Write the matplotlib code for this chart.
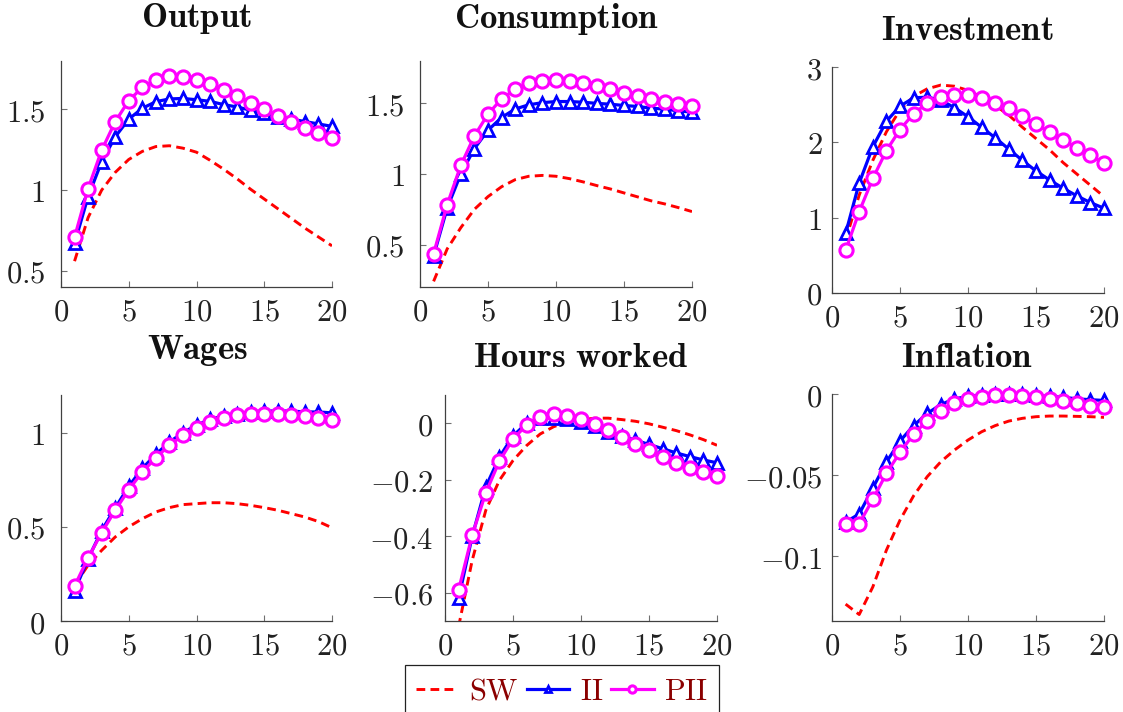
import numpy as np
import matplotlib
matplotlib.use("Agg")
import matplotlib.pyplot as plt
from matplotlib.ticker import FuncFormatter, FixedLocator

plt.rcParams['mathtext.fontset'] = 'cm'
plt.rcParams['font.family'] = 'serif'

# horizon
t = list(range(1, 21))

titles = ['Output', 'Consumption', 'Investment', 'Wages', 'Hours worked', 'Inflation']

# SW (red dashed)
sw_output = [0.56, 0.83, 1.00, 1.11, 1.19, 1.24, 1.27, 1.275, 1.26, 1.235,
             1.185, 1.13, 1.07, 1.005, 0.945, 0.885, 0.825, 0.765, 0.71, 0.655]
sw_cons = [0.24, 0.47, 0.62, 0.75, 0.84, 0.91, 0.96, 0.984, 0.99, 0.984,
           0.967, 0.944, 0.918, 0.894, 0.866, 0.838, 0.81, 0.788, 0.762, 0.734]
sw_inv = [0.70, 1.30, 1.76, 2.14, 2.43, 2.61, 2.71, 2.76, 2.745, 2.69,
          2.60, 2.49, 2.36, 2.20, 2.05, 1.90, 1.73, 1.58, 1.43, 1.28]
sw_wages = [0.19, 0.296, 0.375, 0.446, 0.50, 0.543, 0.579, 0.602, 0.618, 0.623,
            0.628, 0.628, 0.623, 0.614, 0.602, 0.588, 0.57, 0.552, 0.528, 0.495]
sw_hours = [-0.72, -0.485, -0.308, -0.202, -0.132, -0.079, -0.038, -0.012, 0.004, 0.012,
            0.018, 0.018, 0.013, 0.007, -0.002, -0.014, -0.026, -0.041, -0.058, -0.078]
sw_infl = [-0.1296, -0.136, -0.119, -0.0963, -0.0778, -0.0628, -0.051, -0.0418, -0.0346, -0.0284,
           -0.0233, -0.0195, -0.0167, -0.015, -0.014, -0.0136, -0.0136, -0.0138, -0.014, -0.0144]

# II (blue triangles)
ii_output = [0.67, 0.96, 1.176, 1.33, 1.44, 1.507, 1.548, 1.565, 1.568, 1.56,
             1.55, 1.53, 1.515, 1.495, 1.475, 1.455, 1.44, 1.425, 1.41, 1.395]
ii_cons = [0.42, 0.76, 1.00, 1.18, 1.31, 1.40, 1.46, 1.49, 1.505, 1.513,
           1.513, 1.508, 1.50, 1.494, 1.485, 1.478, 1.466, 1.459, 1.447, 1.438]
ii_inv = [0.79, 1.46, 1.94, 2.28, 2.48, 2.59, 2.60, 2.56, 2.46, 2.34,
          2.20, 2.06, 1.91, 1.76, 1.62, 1.50, 1.39, 1.29, 1.20, 1.125]
ii_wages = [0.16, 0.33, 0.48, 0.60, 0.715, 0.81, 0.885, 0.95, 1.00, 1.04,
            1.07, 1.09, 1.10, 1.11, 1.115, 1.115, 1.115, 1.11, 1.11, 1.105]
ii_hours = [-0.62, -0.40, -0.225, -0.12, -0.045, 0.0, 0.018, 0.02, 0.015, 0.005,
            -0.01, -0.03, -0.045, -0.06, -0.075, -0.09, -0.105, -0.118, -0.13, -0.14]
ii_infl = [-0.079, -0.074, -0.058, -0.042, -0.029, -0.0195, -0.012, -0.0065, -0.003, -0.0015,
           -0.0005, 0.0, 0.0, -0.0003, -0.0008, -0.0015, -0.002, -0.003, -0.0035, -0.004]

# PII (magenta circles)
pii_output = [0.708, 1.01, 1.247, 1.424, 1.555, 1.636, 1.683, 1.704, 1.70, 1.683,
              1.658, 1.621, 1.584, 1.542, 1.50, 1.462, 1.42, 1.387, 1.356, 1.325]
pii_cons = [0.435, 0.784, 1.061, 1.27, 1.424, 1.532, 1.60, 1.642, 1.659, 1.664,
            1.659, 1.642, 1.624, 1.60, 1.576, 1.553, 1.532, 1.513, 1.496, 1.478]
pii_inv = [0.565, 1.08, 1.52, 1.89, 2.17, 2.38, 2.52, 2.60, 2.63, 2.625,
           2.59, 2.52, 2.45, 2.35, 2.24, 2.135, 2.03, 1.93, 1.826, 1.72]
pii_wages = [0.186, 0.335, 0.469, 0.588, 0.697, 0.791, 0.867, 0.933, 0.986, 1.025,
             1.057, 1.078, 1.092, 1.10, 1.10, 1.10, 1.096, 1.088, 1.078, 1.065]
pii_hours = [-0.59, -0.396, -0.246, -0.134, -0.056, -0.006, 0.021, 0.033, 0.027, 0.015,
             -0.002, -0.024, -0.047, -0.073, -0.096, -0.118, -0.139, -0.158, -0.173, -0.188]
pii_infl = [-0.080, -0.080, -0.065, -0.049, -0.036, -0.0247, -0.0165, -0.0103, -0.0058, -0.0031,
            -0.0016, -0.0008, -0.0006, -0.0012, -0.002, -0.003, -0.0043, -0.0058, -0.0072, -0.0082]

sw = [sw_output, sw_cons, sw_inv, sw_wages, sw_hours, sw_infl]
ii = [ii_output, ii_cons, ii_inv, ii_wages, ii_hours, ii_infl]
pii = [pii_output, pii_cons, pii_inv, pii_wages, pii_hours, pii_infl]

ylims = [(0.4, 1.8), (0.2, 1.8), (0, 3), (0, 1.2), (-0.7, 0.1), (-0.14, 0)]
yticks = [[0.5, 1, 1.5], [0.5, 1, 1.5], [0, 1, 2, 3], [0, 0.5, 1],
          [-0.6, -0.4, -0.2, 0], [-0.1, -0.05, 0]]
xticks = [0, 5, 10, 15, 20]

W, H = 1123, 712
# axes boxes in pixels: left, right, top, bottom
boxes = [(61, 332, 61, 287), (420, 692, 61, 287), (832, 1104, 67, 293),
         (61, 332, 395, 621), (445, 717, 395, 621), (832, 1104, 394, 621)]
title_pos = [(196, 19), (556, 19), (967, 30), (197, 351), (580, 357), (967, 357)]
ypads = [11.5, 11, 7, 11.5, 8.5, 7]

fig = plt.figure(figsize=(W / 100, H / 100), dpi=100)

def fmt(v, pos):
    s = '%g' % v
    return '$' + s + '$'

axcol = '#404040'
for i in range(6):
    l, r, tp, b = boxes[i]
    ax = fig.add_axes([l / W, 1 - b / H, (r - l) / W, (b - tp) / H])
    ax.plot(t, sw[i], color='#ff0000', lw=2.1, ls=(0, (3, 1.8)), label=r'$\mathrm{SW}$')
    ax.plot(t, ii[i], color='#0000ff', lw=2.3, marker='^', ms=8.5, mew=2.0,
            mfc='white', mec='#0000ff', clip_on=False, label=r'$\mathrm{II}$')
    ax.plot(t, pii[i], color='#ff00ff', lw=2.3, marker='o', ms=9.5, mew=2.2,
            mfc='white', mec='#ff00ff', clip_on=False, label=r'$\mathrm{PII}$')
    ax.set_xlim(0, 20)
    ax.set_ylim(*ylims[i])
    ax.xaxis.set_major_locator(FixedLocator(xticks))
    ax.yaxis.set_major_locator(FixedLocator(yticks[i]))
    ax.xaxis.set_major_formatter(FuncFormatter(fmt))
    ax.yaxis.set_major_formatter(FuncFormatter(fmt))
    for s in ['top', 'right']:
        ax.spines[s].set_visible(False)
    for s in ['left', 'bottom']:
        ax.spines[s].set_color(axcol)
        ax.spines[s].set_linewidth(0.9)
    ax.tick_params(direction='in', length=4, width=0.8, color='#707070',
                   labelsize=22, labelcolor='#222222')
    ax.tick_params(axis='y', pad=ypads[i])
    ax.tick_params(axis='x', pad=7)
    ax.set_facecolor('none')
    fig.text(title_pos[i][0] / W, 1 - title_pos[i][1] / H,
             r'$\mathbf{' + titles[i].replace(' ', r'\ ') + '}$',
             ha='center', va='center', fontsize=25, color='#111111')
    if i == 0:
        handles, labels = ax.get_legend_handles_labels()

leg = fig.legend(handles, labels, loc='upper left',
                 bbox_to_anchor=(405 / W, 1 - 665 / H), ncol=3, fontsize=22,
                 labelcolor='#8b0000', frameon=True, fancybox=False,
                 edgecolor='#222222', framealpha=1, markerscale=0.55,
                 handlelength=1.4, handletextpad=0.35, columnspacing=0.25,
                 borderpad=0.35, borderaxespad=0)
leg.get_frame().set_linewidth(0.9)

fig.savefig('out.png', dpi=100)
